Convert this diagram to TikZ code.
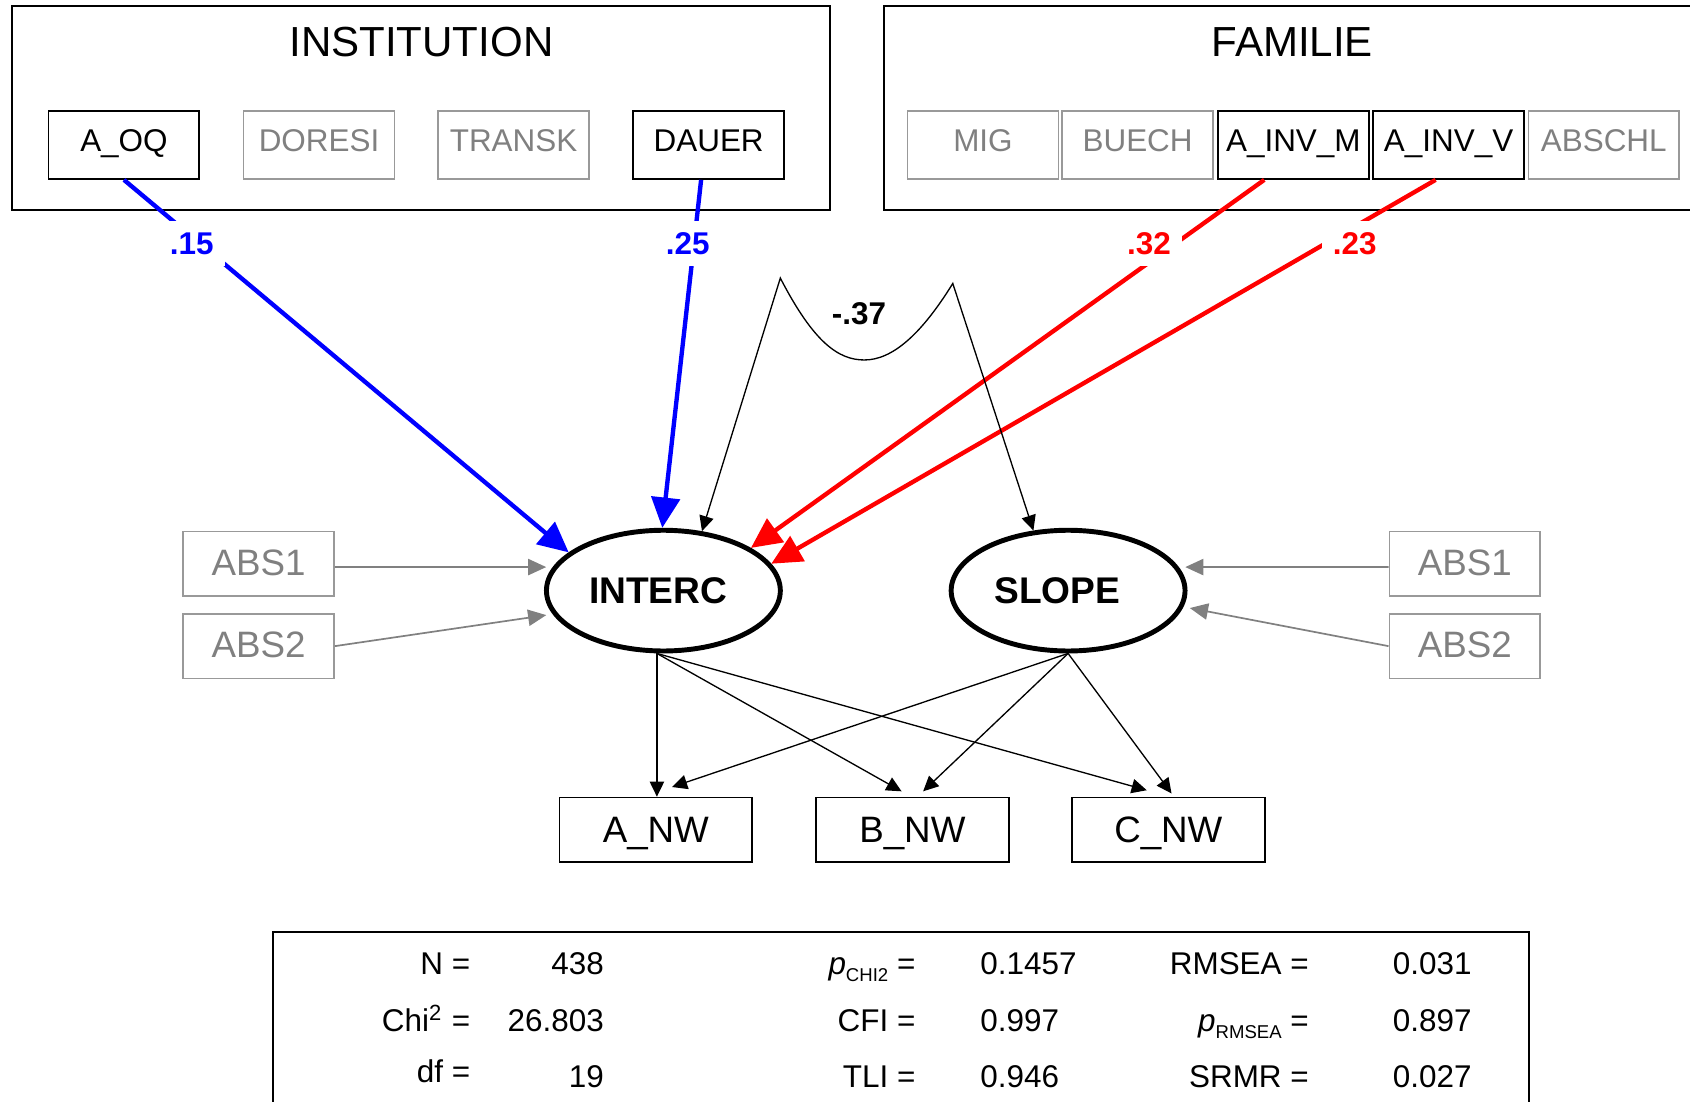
\documentclass[tikz,border=0pt]{standalone}
\usepackage{fontspec}
\setmainfont{Liberation Sans}
\usetikzlibrary{shapes.geometric,arrows.meta,calc}

\newcommand\psub[1]{\textit{p}\raisebox{-0.45ex}{\fontsize{4.9}{5}\selectfont #1}}

\begin{document}
\begin{tikzpicture}[x=0.1mm,y=-0.1mm,
  varbox/.style={draw,line width=0.5pt,minimum width=1.4cm,minimum height=0.63cm,inner sep=0pt,text height=6pt,text depth=2.4pt,font=\fontsize{8.3}{10}\selectfont},
  offbox/.style={varbox,draw=black!40,text=black!50,line width=0.4pt},
  sidebox/.style={draw=black!40,text=black!50,line width=0.4pt,minimum width=1.4cm,minimum height=0.6cm,inner sep=0pt,text height=7pt,text depth=0.8pt,font=\fontsize{9.7}{11}\selectfont},
  nwbox/.style={draw,line width=0.45pt,minimum width=1.79cm,minimum height=0.6cm,inner sep=0pt,text height=7pt,text depth=0.6pt,font=\fontsize{9.7}{11}\selectfont},
  latent/.style={ellipse,draw,line width=1.3pt,minimum width=2.17cm,minimum height=1.12cm,inner sep=0pt,font=\fontsize{9.8}{11}\selectfont\bfseries},
  title/.style={font=\fontsize{11.1}{13}\selectfont},
  coef/.style={fill=white,inner sep=3pt,font=\fontsize{8.3}{10}\selectfont\bfseries},
  bluepath/.style={draw=blue,line width=1.15pt,-{Triangle[length=8pt,width=7.5pt]}},
  redpath/.style={draw=red,line width=1.15pt,-{Triangle[length=8pt,width=7.5pt]}},
  greypath/.style={draw=black!50,line width=0.45pt,-{Triangle[length=4.8pt,width=4.3pt]},shorten >=0.06cm},
  load/.style={line width=0.35pt,-{Triangle[length=4pt,width=3.8pt]}},
  stat/.style={font=\fontsize{8.3}{10}\selectfont,inner sep=0pt}
]
\useasboundingbox (0,0) rectangle (1568,1022);
\clip (0,0) rectangle (1568,1022);

% predictor blocks
\draw[line width=0.55pt] (11,6) rectangle (770,195);
\draw[line width=0.55pt] (820,6) rectangle (1580,195);
\node[title] (inst) at (391,39) {INSTITUTION};
\node[title] (fam) at (1199,39) {FAMILIE};

\node[varbox] (aoq) at (115,134.5) {A\_OQ};
\node[offbox] (doresi) at (296,134.5) {DORESI};
\node[offbox] (transk) at (476.5,134.5) {TRANSK};
\node[varbox] (dauer) at (657.5,134.5) {DAUER};

\node[offbox] (mig) at (912,134.5) {MIG};
\node[offbox] (buech) at (1055.5,134.5) {BUECH};
\node[varbox] (ainvm) at (1200,134.5) {A\_INV\_M};
\node[varbox] (ainvv) at (1344,134.5) {A\_INV\_V};
\node[offbox] (abschl) at (1488,134.5) {ABSCHL};

% growth factors
\node[latent] (interc) at (615.5,548) {INTERC\kern2.8pt};
\node[latent] (slope) at (991,548) {SLOPE\kern5.7pt};

\node[sidebox] (absl1) at (240,523) {ABS1};
\node[sidebox] (absl2) at (240,599.5) {ABS2};
\node[sidebox] (absr1) at (1359,523) {ABS1};
\node[sidebox] (absr2) at (1359,599.5) {ABS2};

\node[nwbox] (anw) at (608.5,770) {A\_NW};
\node[nwbox] (bnw) at (846.5,770) {B\_NW};
\node[nwbox] (cnw) at (1084,770) {C\_NW};

% paths
\draw[bluepath] (aoq.south) -- (interc.158);
\draw[bluepath] ($(dauer.south)+(-7,0)$) -- (interc.91);
\draw[redpath] ($(ainvm.south)+(-27,0)$) -- (interc.26);
\draw[redpath] ($(ainvv.south)+(-12,0)$) -- (interc.14);

\draw[line width=0.35pt,{Triangle[length=4pt,width=3.8pt]}-{Triangle[length=4pt,width=3.8pt]}]
  (interc.57) -- (724,258) .. controls (755,318) and (778,334) .. (802,334)
  .. controls (828,334) and (855,310) .. (884,263) -- (slope.120);
\node[font=\fontsize{8.3}{10}\selectfont\bfseries] (cov) at (797,291) {-.37};

\draw[greypath] ($(absl1.east)+(0,3)$) -- (interc.168);
\draw[greypath] (absl2.east) -- (interc.192);
\draw[greypath] ($(absr1.west)+(0,3)$) -- (slope.12);
\draw[greypath] (absr2.west) -- (slope.352);

\coordinate (ibot) at ($(interc.south)+(-6,0)$);
\draw[load] (ibot) -- (ibot |- anw.north);
\draw[load] (ibot) -- ($(bnw.north)+(-10,-5)$);
\draw[load] (ibot) -- ($(cnw.north)+(-20,-6)$);
\draw[load] (slope.south) -- ($(anw.north)+(15,-9)$);
\draw[load] (slope.south) -- ($(bnw.north)+(10,-5)$);
\draw[load] (slope.south) -- ($(cnw.north)+(3,-3)$);

\node[coef,text=blue] (c15) at (178,226) {.15};
\node[coef,text=blue] (c25) at (638,226) {.25};
\node[coef,text=red] (c32) at (1066,226) {.32};
\node[coef,text=red] (c23) at (1257,226) {.23};

% fit indices
\draw[line width=0.5pt] (253,865) rectangle (1419,1040);
\node[stat,anchor=base east] (nlab) at (437,904) {N =};
\node[stat,anchor=base east] (nval) at (561,904) {438};
\node[stat,anchor=base east] (chilab) at (437,957) {Chi\textsuperscript{2} =};
\node[stat,anchor=base east] (chival) at (561,957) {26.803};
\node[stat,anchor=base east] (dflab) at (437,1004) {df =};
\node[stat,anchor=base east] (dfval) at (561,1009) {19};

\node[stat,anchor=base east] (pchilab) at (850,904) {\psub{CHI2} =};
\node[stat,anchor=base west] (pchival) at (909,904) {0.1457};
\node[stat,anchor=base east] (cfilab) at (850,957) {CFI =};
\node[stat,anchor=base west] (cfival) at (909,957) {0.997};
\node[stat,anchor=base east] (tlilab) at (850,1009) {TLI =};
\node[stat,anchor=base west] (tlival) at (909,1009) {0.946};

\node[stat,anchor=base east] (rmsealab) at (1215,904) {RMSEA =};
\node[stat,anchor=base east] (rmseaval) at (1366,904) {0.031};
\node[stat,anchor=base east] (prmsealab) at (1215,957) {\psub{RMSEA} =};
\node[stat,anchor=base east] (prmseaval) at (1366,957) {0.897};
\node[stat,anchor=base east] (srmrlab) at (1215,1009) {SRMR =};
\node[stat,anchor=base east] (srmrval) at (1366,1009) {0.027};
\end{tikzpicture}
\end{document}
